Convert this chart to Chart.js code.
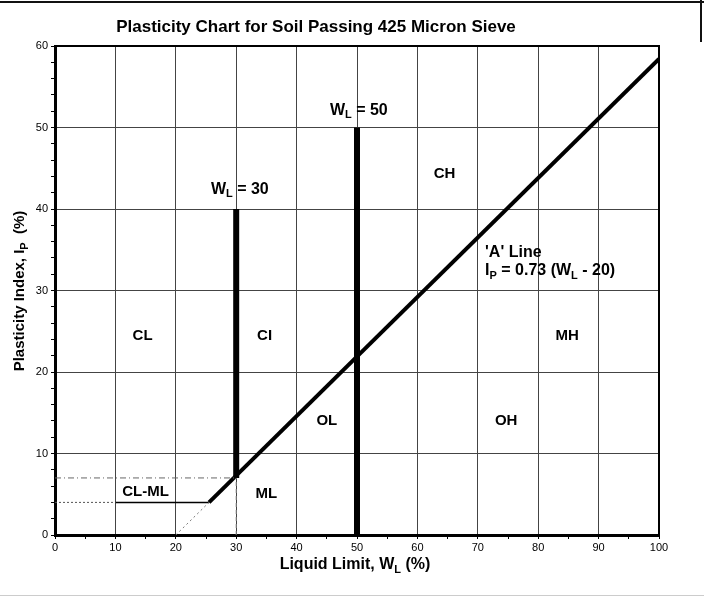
<!DOCTYPE html>
<html>
<head>
<meta charset="utf-8">
<script src="https://cdn.jsdelivr.net/npm/chart.js@4.4.1/dist/chart.umd.min.js"></script>
<style>
  html, body { margin: 0; padding: 0; background: #fff; }
  #wrap { position: relative; width: 704px; height: 598px; }
  #frameTop { position: absolute; left: 0; top: 1px; width: 704px; height: 2px; background: #111; }
  #frameRight { position: absolute; left: 700px; top: 0; width: 2px; height: 42px; background: #111; }
  #frameBottom { position: absolute; left: 0; top: 595px; width: 704px; height: 1px; background: #ccc; }
</style>
</head>
<body>
<div id="wrap">
  <canvas id="chart" width="704" height="598"></canvas>
  <div id="frameTop"></div>
  <div id="frameRight"></div>
  <div id="frameBottom"></div>
</div>
<script>
// axis ranges / ticks
const xTicks = [0, 10, 20, 30, 40, 50, 60, 70, 80, 90, 100];
const yTicks = [0, 10, 20, 30, 40, 50, 60];

// boundary lines, [liquid limit, plasticity index]
const aLine = [[25.5, 4], [100, 58.4]];
const aLineExt = [[20, 0], [25.5, 4]];
const clmlTop = [[10, 4], [25.5, 4]];
const clmlTopDotted = [[0, 4], [10, 4]];
const clmlUpper = [[0, 7], [30, 7]];
const wl30 = [[30, 7], [30, 40]];
const wl30Below = [[30, 0], [30, 7]];
const wl50 = [[50, 0], [50, 50]];

// zone labels
const zoneNames = ["CL", "CI", "CH", "MH", "OL", "OH", "CL-ML", "ML"];
const zoneX = [14.5, 34.7, 64.5, 84.8, 45, 74.7, 15, 35];
const zoneY = [24.4, 24.4, 44.3, 24.4, 14, 14, 5.3, 5.0];

const toPts = arr => arr.map(p => ({ x: p[0], y: p[1] }));

function seg(data, width, color, dash) {
  return {
    data: toPts(data),
    borderColor: color,
    borderWidth: width,
    borderDash: dash || [],
    pointRadius: 0,
    showLine: true,
    fill: false,
    borderCapStyle: "butt"
  };
}

const FONT = "'Liberation Sans', Arial, sans-serif";

// draw text with a subscript, parts: [[text, isSub], ...]
function drawRich(ctx, parts, x, y, size, align) {
  const subSize = Math.round(size * 0.7);
  let total = 0;
  parts.forEach(p => {
    ctx.font = "bold " + (p[1] ? subSize : size) + "px " + FONT;
    total += ctx.measureText(p[0]).width;
  });
  let cx = align === "left" ? x : x - total / 2;
  ctx.textAlign = "left";
  ctx.textBaseline = "middle";
  parts.forEach(p => {
    ctx.font = "bold " + (p[1] ? subSize : size) + "px " + FONT;
    ctx.fillText(p[0], cx, p[1] ? y + size * 0.3 : y);
    cx += ctx.measureText(p[0]).width;
  });
}

const labelPlugin = {
  id: "labels",
  afterDraw(chart) {
    const { ctx, chartArea: ca, scales } = chart;
    const xs = scales.x, ys = scales.y;
    ctx.save();

    // top and right frame of plot
    ctx.strokeStyle = "#000";
    ctx.lineWidth = 2;
    ctx.beginPath();
    ctx.moveTo(ca.left, ca.top);
    ctx.lineTo(ca.right, ca.top);
    ctx.lineTo(ca.right, ca.bottom);
    ctx.stroke();

    ctx.fillStyle = "#000";
    // title
    ctx.font = "bold 17px " + FONT;
    ctx.textAlign = "center";
    ctx.textBaseline = "middle";
    ctx.fillText("Plasticity Chart for Soil Passing 425 Micron Sieve", 316, 27);

    // zone names
    ctx.font = "bold 15px " + FONT;
    zoneNames.forEach((n, i) => {
      ctx.fillText(n, xs.getPixelForValue(zoneX[i]), ys.getPixelForValue(zoneY[i]));
    });

    drawRich(ctx, [["W", 0], ["L", 1], [" = 30", 0]], xs.getPixelForValue(30.6), ys.getPixelForValue(42.4), 16, "center");
    drawRich(ctx, [["W", 0], ["L", 1], [" = 50", 0]], xs.getPixelForValue(50.3), ys.getPixelForValue(52.1), 16, "center");
    drawRich(ctx, [["'A' Line", 0]], xs.getPixelForValue(71.2), ys.getPixelForValue(34.6), 16, "left");
    drawRich(ctx, [["I", 0], ["P", 1], [" = 0.73 (W", 0], ["L", 1], [" - 20)", 0]], xs.getPixelForValue(71.2), ys.getPixelForValue(32.4), 16, "left");

    // axis titles
    drawRich(ctx, [["Liquid Limit, W", 0], ["L", 1], [" (%)", 0]], 355, 565, 16, "center");
    ctx.translate(20, 291);
    ctx.rotate(-Math.PI / 2);
    drawRich(ctx, [["Plasticity Index, I", 0], ["P", 1], ["  (%)", 0]], 0, 0, 15, "center");
    ctx.restore();
  }
};

new Chart(document.getElementById("chart"), {
  type: "scatter",
  data: {
    datasets: [
      seg(aLineExt, 1, "#777", [2, 3]),
      seg(clmlTopDotted, 1, "#555", [2, 2]),
      seg(clmlTop, 1.5, "#000"),
      seg(clmlUpper, 1, "#666", [6, 3, 1, 3]),
      seg(wl30Below, 1, "#888", [4, 3]),
      seg(aLine, 4, "#000"),
      seg(wl30, 6, "#000"),
      seg(wl50, 6, "#000")
    ]
  },
  options: {
    responsive: false,
    animation: false,
    layout: { padding: { top: 46, right: 45, left: 0, bottom: 0 } },
    plugins: {
      legend: { display: false },
      tooltip: { enabled: false },
      title: { display: false }
    },
    scales: {
      x: {
        type: "linear",
        min: xTicks[0],
        max: xTicks[xTicks.length - 1],
        afterFit: s => { s.height = 63; },
        ticks: {
          stepSize: 5,
          autoSkip: false,
          maxRotation: 0,
          color: "#000",
          font: { family: FONT, size: 11 },
          padding: 2,
          callback: v => xTicks.includes(v) ? String(v) : ""
        },
        grid: {
          color: c => xTicks.includes(c.tick.value) ? "#444" : "rgba(0,0,0,0)",
          tickColor: "#000",
          tickLength: 4,
          lineWidth: 1
        },
        border: { color: "#000", width: 3 }
      },
      y: {
        type: "linear",
        min: yTicks[0],
        max: yTicks[yTicks.length - 1],
        afterFit: s => { s.width = 55; },
        ticks: {
          stepSize: 2,
          autoSkip: false,
          color: "#000",
          font: { family: FONT, size: 11 },
          padding: 3,
          callback: v => yTicks.includes(v) ? String(v) : ""
        },
        grid: {
          color: c => yTicks.includes(c.tick.value) ? "#444" : "rgba(0,0,0,0)",
          tickColor: "#000",
          tickLength: 4,
          lineWidth: 1
        },
        border: { color: "#000", width: 3 }
      }
    }
  },
  plugins: [labelPlugin]
});
</script>
</body>
</html>
